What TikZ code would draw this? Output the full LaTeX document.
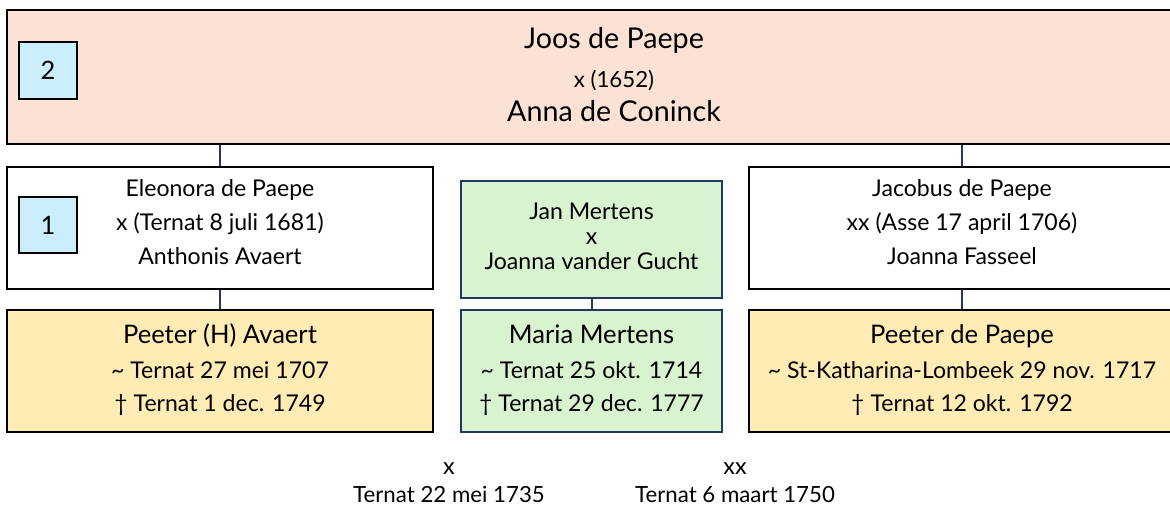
\documentclass[tikz,border=0pt]{standalone}
\usepackage{fontspec}
\setmainfont{Lato}
\usepackage{tikz}
\usepackage{xcolor}
\definecolor{topfill}{RGB}{251,226,213}
\definecolor{numfill}{RGB}{202,238,251}
\definecolor{greenfill}{RGB}{217,242,208}
\definecolor{yellowfill}{RGB}{255,236,181}
\definecolor{linkblue}{RGB}{31,56,100}
\tikzset{every picture/.style={line width=0.75pt}}
\tikzset{
  famblock/.style={draw=black, line width=1.5pt, inner sep=0pt},
  greenblock/.style={draw=linkblue, line width=1.5pt, fill=greenfill, inner sep=0pt, minimum width=195.75pt},
  numblock/.style={draw=black, line width=1.5pt, fill=numfill, inner sep=0pt, minimum width=43.5pt, minimum height=42.5pt, font=\fontsize{19}{22}\selectfont},
  link/.style={draw=linkblue, line width=1.5pt},
  txt/.style={inner sep=0pt, text height=1.25em, text depth=0.25em, font=\fontsize{17.3}{20}\selectfont},
  bigtxt/.style={txt, font=\fontsize{19.2}{22}\selectfont},
  titletxt/.style={txt, font=\fontsize{21.5}{24}\selectfont},
  datetxt/.style={txt, font=\fontsize{16.7}{19}\selectfont}
}

\begin{document}
\begin{tikzpicture}[x=0.75pt,y=0.75pt,yscale=-1,xscale=1]
\useasboundingbox (0,0) rectangle (1170,508);

%Shape: Rectangle [ouders]
\node[famblock, fill=topfill, minimum width=910.5pt, minimum height=100.5pt] (ouders) at (614,77) {};
%Shape: Rectangle [gen 2]
\node[numblock] (gen2) at (48,70.5) {2};

%Shape: Rectangle [eleonora]
\node[famblock, fill=white, minimum width=319.5pt, minimum height=91.5pt] (eleonora) at (220,228) {};
%Shape: Rectangle [gen 1]
\node[numblock] (gen1) at (48,225) {1};
%Shape: Rectangle [mertens]
\node[greenblock, minimum height=87.75pt] (mertens) at (591.5,239.5) {};
%Shape: Rectangle [jacobus]
\node[famblock, fill=white, minimum width=319.5pt, minimum height=91.5pt] (jacobus) at (962,228) {};

%Shape: Rectangle [peeterA]
\node[famblock, fill=yellowfill, minimum width=319.5pt, minimum height=91.5pt] (peeterA) at (220,371) {};
%Shape: Rectangle [maria]
\node[greenblock, minimum height=91.5pt] (maria) at (591.5,371) {};
%Shape: Rectangle [peeterP]
\node[famblock, fill=yellowfill, minimum width=319.5pt, minimum height=91.5pt] (peeterP) at (962,371) {};

%Straight Lines
\draw[link] (eleonora.north |- ouders.south) -- (eleonora.north) ;
\draw[link] (jacobus.north |- ouders.south) -- (jacobus.north) ;
\draw[link] (eleonora.south) -- (peeterA.north) ;
\draw[link] (mertens.south) -- (maria.north) ;
\draw[link] (jacobus.south) -- (peeterP.north) ;

% Text Node
\node[titletxt] (joos) at (614,42) {Joos de Paepe};
% Text Node
\node[datetxt] (huw0) at (614,81) {x (1652)};
% Text Node
\node[titletxt] (anna) at (614,115) {Anna de Coninck};

% Text Node
\node[txt] (eleo1) at (220,190) {Eleonora de Paepe};
\node[txt] (eleo2) at (220,224) {x (Ternat 8 juli 1681)};
\node[txt] (eleo3) at (220,258) {Anthonis Avaert};
% Text Node
\node[txt] (mert1) at (591.5,213) {Jan Mertens};
\node[txt] (mert2) at (591.5,238) {x};
\node[txt] (mert3) at (591.5,263) {Joanna vander Gucht};
% Text Node
\node[txt] (jaco1) at (962,190) {Jacobus de Paepe};
\node[txt] (jaco2) at (962,224) {xx (Asse 17 april 1706)};
\node[txt] (jaco3) at (962,258) {Joanna Fasseel};

% Text Node
\node[bigtxt] (pa1) at (220,337) {Peeter (H) Avaert};
\node[txt] (pa2) at (220,372) {\textasciitilde{} Ternat 27 mei 1707};
\node[txt] (pa3) at (220,405) {† Ternat 1 dec. 1749};
% Text Node
\node[bigtxt] (ma1) at (591.5,337) {Maria Mertens};
\node[txt] (ma2) at (591.5,372) {\textasciitilde{} Ternat 25 okt. 1714};
\node[txt] (ma3) at (591.5,405) {† Ternat 29 dec. 1777};
% Text Node
\node[bigtxt] (pp1) at (962,337) {Peeter de Paepe};
\node[txt] (pp2) at (962,372) {\textasciitilde{} St-Katharina-Lombeek 29 nov. 1717};
\node[txt] (pp3) at (962,405) {† Ternat 12 okt. 1792};

% Text Node
\node[txt, font=\fontsize{17.5}{20}\selectfont] (huw1) at (449,468) {x};
\node[datetxt] (huw1d) at (449,496) {Ternat 22 mei 1735};
% Text Node
\node[txt, font=\fontsize{17.5}{20}\selectfont] (huw2) at (735,468) {xx};
\node[datetxt] (huw2d) at (735,496) {Ternat 6 maart 1750};

\end{tikzpicture}
\end{document}
